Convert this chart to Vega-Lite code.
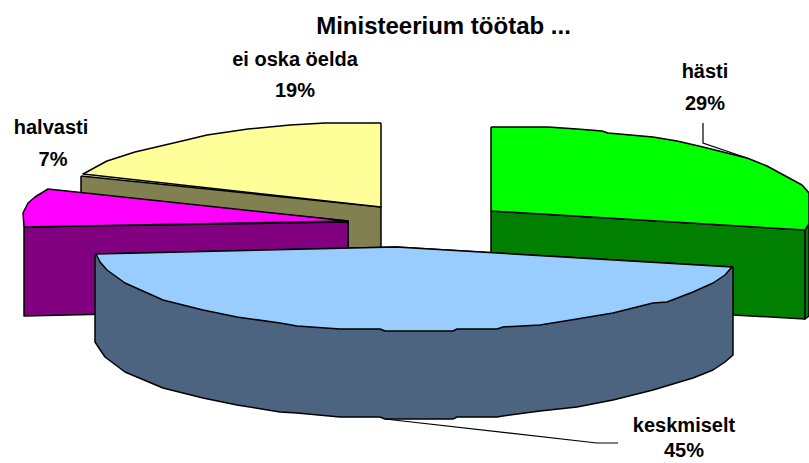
{"$schema":"https://vega.github.io/schema/vega-lite/v6.json","width":809,"height":463,"padding":0,"autosize":{"type":"none"},"background":"white","view":{"stroke":null},
"title":{"text":"Ministeerium töötab ...","font":"Liberation Sans","fontSize":24,"fontWeight":"bold","color":"#000000","anchor":"middle","dx":39,"offset":-39},
"datasets":{"shapes":[
{"s":"a","x":81,"y":176},{"s":"a","x":381,"y":207},{"s":"a","x":381,"y":262},{"s":"a","x":348,"y":262},{"s":"a","x":348,"y":221},{"s":"a","x":81,"y":195},{"s":"a","x":81,"y":176},
{"s":"b","x":381,"y":123},{"s":"b","x":325,"y":123},{"s":"b","x":290,"y":125},{"s":"b","x":248,"y":129},{"s":"b","x":207,"y":135},{"s":"b","x":182,"y":141},{"s":"b","x":135,"y":152},{"s":"b","x":107,"y":161},{"s":"b","x":83,"y":174},{"s":"b","x":381,"y":207},{"s":"b","x":381,"y":123},
{"s":"c","x":24,"y":227},{"s":"c","x":348,"y":222},{"s":"c","x":348,"y":280},{"s":"c","x":200,"y":312},{"s":"c","x":24,"y":316},{"s":"c","x":24,"y":227},
{"s":"d","x":24,"y":227},{"s":"d","x":23,"y":213},{"s":"d","x":28,"y":203},{"s":"d","x":35,"y":197},{"s":"d","x":48,"y":189},{"s":"d","x":348,"y":221},{"s":"d","x":24,"y":227},
{"s":"e","x":491,"y":211},{"s":"e","x":805,"y":230},{"s":"e","x":805,"y":319},{"s":"e","x":733,"y":315},{"s":"e","x":733,"y":290},{"s":"e","x":491,"y":280},{"s":"e","x":491,"y":211},
{"s":"f","x":805,"y":230},{"s":"f","x":809,"y":224},{"s":"f","x":809,"y":316},{"s":"f","x":805,"y":319},{"s":"f","x":805,"y":230},
{"s":"g","x":491,"y":127},{"s":"g","x":548,"y":127},{"s":"g","x":577,"y":129},{"s":"g","x":602,"y":131},{"s":"g","x":608,"y":133},{"s":"g","x":653,"y":137},{"s":"g","x":677,"y":141},{"s":"g","x":703,"y":147},{"s":"g","x":747,"y":158},{"s":"g","x":767,"y":166},{"s":"g","x":802,"y":185},{"s":"g","x":809,"y":193},{"s":"g","x":809,"y":224},{"s":"g","x":805,"y":230},{"s":"g","x":491,"y":211},{"s":"g","x":491,"y":127},
{"s":"h","x":95,"y":254},{"s":"h","x":95,"y":342},{"s":"h","x":105,"y":357},{"s":"h","x":125,"y":372},{"s":"h","x":163,"y":388},{"s":"h","x":203,"y":398},{"s":"h","x":237,"y":405},{"s":"h","x":280,"y":412},{"s":"h","x":297,"y":413},{"s":"h","x":340,"y":417},{"s":"h","x":380,"y":417},{"s":"h","x":385,"y":419},{"s":"h","x":453,"y":419},{"s":"h","x":457,"y":417},{"s":"h","x":497,"y":417},{"s":"h","x":503,"y":416},{"s":"h","x":540,"y":411},{"s":"h","x":577,"y":407},{"s":"h","x":613,"y":400},{"s":"h","x":633,"y":395},{"s":"h","x":653,"y":390},{"s":"h","x":693,"y":378},{"s":"h","x":713,"y":370},{"s":"h","x":725,"y":362},{"s":"h","x":733,"y":355},{"s":"h","x":733,"y":267},{"s":"h","x":396,"y":247},{"s":"h","x":95,"y":254},
{"s":"i","x":96,"y":254},{"s":"i","x":100,"y":262},{"s":"i","x":107,"y":270},{"s":"i","x":125,"y":283},{"s":"i","x":163,"y":300},{"s":"i","x":203,"y":310},{"s":"i","x":237,"y":317},{"s":"i","x":280,"y":323},{"s":"i","x":297,"y":326},{"s":"i","x":340,"y":329},{"s":"i","x":380,"y":329},{"s":"i","x":385,"y":331},{"s":"i","x":453,"y":331},{"s":"i","x":457,"y":329},{"s":"i","x":497,"y":329},{"s":"i","x":503,"y":327},{"s":"i","x":540,"y":325},{"s":"i","x":577,"y":319},{"s":"i","x":613,"y":313},{"s":"i","x":633,"y":308},{"s":"i","x":653,"y":303},{"s":"i","x":667,"y":302},{"s":"i","x":693,"y":292},{"s":"i","x":713,"y":283},{"s":"i","x":725,"y":275},{"s":"i","x":732,"y":267},{"s":"i","x":396,"y":247},{"s":"i","x":96,"y":254}
],
"leaders":[{"l":"hästi","x":703,"y":123},{"l":"hästi","x":703,"y":143},{"l":"hästi","x":747,"y":158},{"l":"keskmiselt","x":385,"y":419},{"l":"keskmiselt","x":597,"y":443},{"l":"keskmiselt","x":618,"y":443}],
"labels":[{"t":"ei oska öelda","x":295,"y":60},{"t":"19%","x":295,"y":91},{"t":"hästi","x":705,"y":72},{"t":"29%","x":705,"y":104},{"t":"halvasti","x":51,"y":128},{"t":"7%","x":53,"y":160},{"t":"keskmiselt","x":684,"y":426},{"t":"45%","x":684,"y":451}]},
"layer":[
{"data":{"name":"shapes"},"transform":[{"window":[{"op":"row_number","as":"n"}]}],"mark":{"type":"line","stroke":"#000000","strokeWidth":1.5,"strokeJoin":"round","clip":true},"encoding":{"x":{"field":"x","type":"quantitative","scale":{"domain":[0,809],"nice":false,"zero":false},"axis":null},"y":{"field":"y","type":"quantitative","scale":{"domain":[463,0],"nice":false,"zero":false},"axis":null},"order":{"field":"n","type":"quantitative"},"detail":{"field":"s"},"fill":{"field":"s","type":"nominal","legend":null,"scale":{"domain":["a","b","c","d","e","f","g","h","i"],"range":["#808050","#FFFF99","#800080","#FF00FF","#007F00","#007F00","#00FF00","#4D6480","#99CCFF"]}}}},
{"data":{"name":"leaders"},"transform":[{"window":[{"op":"row_number","as":"n"}]}],"mark":{"type":"line","stroke":"#000000","strokeWidth":1.2},"encoding":{"x":{"field":"x","type":"quantitative","scale":{"domain":[0,809]},"axis":null},"y":{"field":"y","type":"quantitative","scale":{"domain":[463,0]},"axis":null},"order":{"field":"n","type":"quantitative"},"detail":{"field":"l"}}},
{"data":{"name":"labels"},"mark":{"type":"text","font":"Liberation Sans","fontSize":20,"fontWeight":"bold","color":"#000000","align":"center","baseline":"middle"},"encoding":{"x":{"field":"x","type":"quantitative","scale":{"domain":[0,809]},"axis":null},"y":{"field":"y","type":"quantitative","scale":{"domain":[463,0]},"axis":null},"text":{"field":"t"}}}
]}
